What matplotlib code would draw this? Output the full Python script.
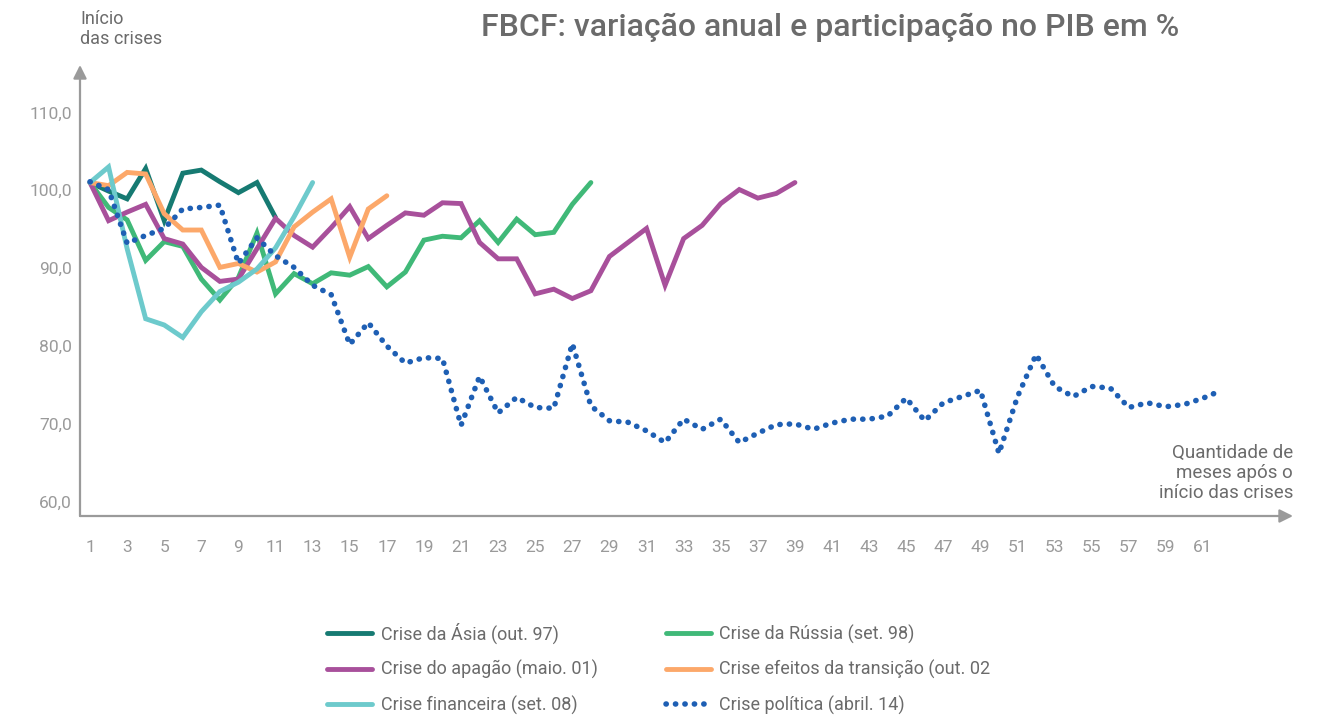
import numpy as np
import matplotlib.pyplot as plt
from matplotlib.lines import Line2D

plt.rcParams['font.family'] = ['Roboto', 'DejaVu Sans']

# ---------------------------------------------
# dados (índice, início da crise = 100)
# ---------------------------------------------
asia = [101.0, 99.9, 98.9, 102.8, 96.1, 102.2, 102.6, 101.1, 99.7, 101.0, 96.5]
russia = [101.0, 97.8, 96.2, 91.0, 93.4, 92.8, 88.6, 85.9, 88.8, 94.5, 86.7, 89.3,
          88.0, 89.4, 89.1, 90.2, 87.6, 89.5, 93.6, 94.1, 93.9, 96.1, 93.3, 96.3,
          94.3, 94.6, 98.2, 101.0]
apagao = [101.0, 96.1, 97.2, 98.2, 93.8, 93.1, 90.1, 88.3, 88.6, 92.5, 96.4, 94.2,
          92.7, 95.2, 97.9, 93.8, 95.5, 97.1, 96.8, 98.4, 98.3, 93.3, 91.2, 91.2,
          86.7, 87.3, 86.1, 87.1, 91.5, 93.3, 95.1, 87.8, 93.8, 95.5, 98.3, 100.1,
          99.0, 99.6, 101.0]
transicao = [101.0, 100.6, 102.3, 102.1, 97.0, 94.9, 94.9, 90.1, 90.6, 89.5, 90.8,
             95.3, 97.2, 98.9, 91.4, 97.6, 99.3]
financeira = [101.0, 103.0, 92.5, 83.5, 82.7, 81.1, 84.4, 87.0, 88.2, 89.9, 92.6,
              96.6, 101.0]
politica = [101.1, 100.1, 93.2, 94.2, 95.1, 97.6, 97.8, 98.1, 90.6, 93.9, 91.6, 90.1,
            87.8, 86.6, 80.2, 83.0, 80.0, 77.8, 78.5, 78.4, 69.8, 76.1, 71.4, 73.4,
            72.1, 72.0, 80.3, 72.3, 70.4, 70.2, 69.1, 67.6, 70.6, 69.3, 70.6, 67.6,
            68.8, 69.9, 70.0, 69.3, 70.1, 70.6, 70.6, 71.0, 73.3, 70.4, 72.7, 73.5,
            74.3, 66.2, 73.5, 78.9, 74.8, 73.5, 74.8, 74.6, 72.1, 72.7, 72.2, 72.5,
            73.3, 74.3]

nomes = ['Crise da Ásia (out. 97)', 'Crise da Rússia (set. 98)',
         'Crise do apagão (maio. 01)', 'Crise efeitos da transição (out. 02',
         'Crise financeira (set. 08)', 'Crise política (abril. 14)']
cores = ['#167a72', '#40b978', '#a8509b', '#fca86a', '#6dcacc', '#1e5fb4']

y_ticks = [60, 70, 80, 90, 100, 110]
x_ticks = list(range(1, 62, 2))

CINZA = '#9a9a9a'
TEXTO = '#6b6b6b'

# ---------------------------------------------
# figura
# ---------------------------------------------
fig = plt.figure(figsize=(13.33, 7.15), dpi=100)
ax = fig.add_axes([80 / 1333, 1 - 516 / 715, 1213 / 1333, 451 / 715])
ax.set_xlim(0.46, 65.85)
ax.set_ylim(58.16, 116.1)

series = [asia, russia, apagao, transicao, financeira]
handles = []
for dados, cor, nome in zip(series, cores[:5], nomes[:5]):
    meses = np.arange(1, len(dados) + 1)
    h, = ax.plot(meses, dados, color=cor, lw=3.5, solid_capstyle='round',
                 solid_joinstyle='miter', label=nome)
    handles.append(h)

meses = np.arange(1, len(politica) + 1)
h, = ax.plot(meses, politica, color=cores[5], lw=4.0,
             linestyle=(0, (0.05, 1.65)), dash_capstyle='round', label=nomes[5])
handles.append(h)

# eixos com setas
for s in ax.spines.values():
    s.set_visible(False)
ax.annotate('', xy=(1, 0), xytext=(0, 0), xycoords='axes fraction',
            arrowprops=dict(arrowstyle='-|>', color=CINZA, lw=1.6,
                            mutation_scale=20, shrinkA=0, shrinkB=0))
ax.annotate('', xy=(0, 1), xytext=(0, 0), xycoords='axes fraction',
            arrowprops=dict(arrowstyle='-|>', color=CINZA, lw=1.6,
                            mutation_scale=20, shrinkA=0, shrinkB=0))

ax.set_yticks(y_ticks)
ax.set_yticklabels([f'{v:.1f}'.replace('.', ',') for v in y_ticks])
ax.set_xticks(x_ticks)
ax.set_xticklabels([str(v) for v in x_ticks])
ax.tick_params(axis='both', length=0, labelsize=12.5, labelcolor=CINZA)
ax.tick_params(axis='y', pad=6)
ax.tick_params(axis='x', pad=17)

# textos
fig.text(830 / 1333, 1 - 27 / 715, 'FBCF: variação anual e participação no PIB em %',
         ha='center', va='center', fontsize=23, fontweight='medium', color=TEXTO)
fig.text(80 / 1333, 1 - 10 / 715, 'Início\ndas crises', ha='left', va='top',
         fontsize=13, color=TEXTO, linespacing=1.15)
fig.text(1293 / 1333, 1 - 444 / 715, 'Quantidade de\nmeses após o\ninício das crises',
         ha='right', va='top', fontsize=13.5, color=TEXTO, linespacing=1.15)

# legenda (ordem por coluna)
ordem = [0, 2, 4, 1, 3, 5]
leg = fig.legend([handles[i] for i in ordem], [nomes[i] for i in ordem], ncol=2,
                 loc='upper left', bbox_to_anchor=(311 / 1333, 1 - 606 / 715),
                 frameon=False, fontsize=13, handlelength=2.5, handletextpad=0.45,
                 columnspacing=3.8, labelspacing=0.92)
for t in leg.get_texts():
    t.set_color(TEXTO)

fig.savefig('out.png', dpi=100)
